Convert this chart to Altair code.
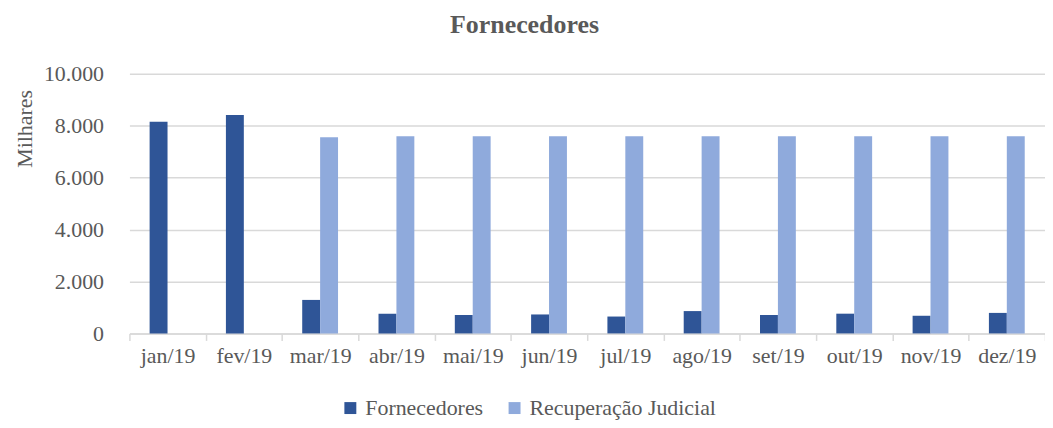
import altair as alt
import pandas as pd

meses = ["jan/19", "fev/19", "mar/19", "abr/19", "mai/19", "jun/19",
         "jul/19", "ago/19", "set/19", "out/19", "nov/19", "dez/19"]
fornecedores = [8150, 8410, 1290, 760, 710, 730, 650, 860, 710, 760, 680, 790]
recuperacao = [None, None, 7550, 7590, 7590, 7590, 7590, 7590, 7590, 7590, 7590, 7590]
series = ["Fornecedores", "Recuperação Judicial"]
cores = ["#2F5597", "#8FAADC"]
y_ticks = [0, 2000, 4000, 6000, 8000, 10000]

rows = []
for m, f, r in zip(meses, fornecedores, recuperacao):
    if f is not None:
        rows.append({"mes": m, "serie": series[0], "valor": f})
    if r is not None:
        rows.append({"mes": m, "serie": series[1], "valor": r})
df = pd.DataFrame(rows)

FONT = "Liberation Serif"
GREY = "#595959"
FS = 22

chart = alt.Chart(df).mark_bar().encode(
    x=alt.X("mes:N", sort=meses, title=None,
            scale=alt.Scale(paddingInner=0, paddingOuter=0),
            axis=alt.Axis(labelAngle=0, tickBand="extent", ticks=True, tickSize=7,
                          tickColor="#d9d9d9", domainColor="#d9d9d9", domainWidth=1.5,
                          tickWidth=1.5, labelPadding=5, labelFontSize=FS,
                          labelColor=GREY, labelFont=FONT, grid=False)),
    xOffset=alt.XOffset("serie:N", sort=series,
                        scale=alt.Scale(domain=series, paddingInner=0, paddingOuter=0,
                                        range=[20.3, 56.3])),
    y=alt.Y("valor:Q", title="Milhares",
            scale=alt.Scale(domain=[0, 10000], nice=False),
            axis=alt.Axis(values=y_ticks, ticks=False, domain=False,
                          gridColor="#d9d9d9", gridWidth=1.5,
                          labelExpr="replace(format(datum.value, ','), ',', '.')",
                          labelPadding=26, labelFontSize=FS, labelColor=GREY, labelFont=FONT,
                          titleFont=FONT, titleFontSize=FS, titleColor=GREY,
                          titleFontWeight="normal", titleX=-98, titleY=55,
                          titleAngle=270, titleAlign="center", titleBaseline="alphabetic")),
    color=alt.Color("serie:N", sort=series, title=None,
                    scale=alt.Scale(domain=series, range=cores),
                    legend=alt.Legend(orient="none", direction="horizontal",
                                      legendX=211, legendY=325, symbolType="square",
                                      symbolSize=144, symbolStrokeWidth=0,
                                      labelFont=FONT, labelFontSize=FS, labelColor=GREY,
                                      labelOffset=4, columnPadding=20, padding=0,
                                      labelLimit=0)),
).properties(
    width=920, height=261,
    padding={"left": 122, "top": 65, "right": 0, "bottom": 86},
    autosize=alt.AutoSizeParams(type="none"),
    title=alt.Title("Fornecedores", font=FONT, fontSize=26, fontWeight="bold",
                    color=GREY, dx=-63, offset=25, anchor="middle"),
).configure_view(stroke=None)

chart.save("out.html", embed_options={"renderer": "svg", "actions": False})
